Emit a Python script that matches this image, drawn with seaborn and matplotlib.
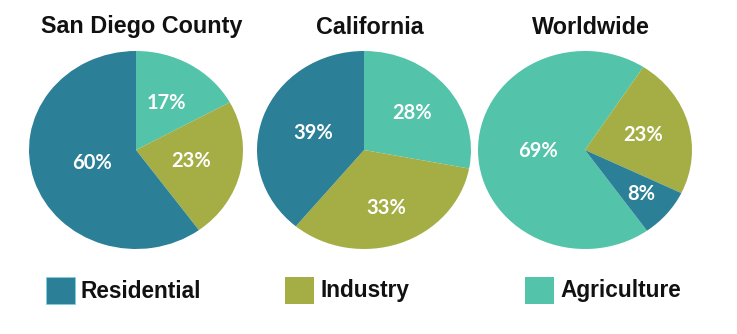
import numpy as np
import matplotlib
matplotlib.use("Agg")
import matplotlib.pyplot as plt
from matplotlib.patches import Rectangle
import seaborn as sns

# Water use share by sector
regions = ["San Diego County", "California", "Worldwide"]
sectors = ["Agriculture", "Industry", "Residential"]
agriculture = [17, 28, 69]
industry = [23, 33, 23]
residential = [60, 39, 8]
legend_order = ["Residential", "Industry", "Agriculture"]

# Styling
sns.set_theme(style="white")
palette = {"Residential": "#2b7f96", "Industry": "#a4ae45", "Agriculture": "#53c3a9"}
start_angles = [90, 90, -54.6]          # degrees, wedges run clockwise
label_radius = [[0.55, 0.53, 0.43],
                [0.58, 0.62, 0.50],
                [0.44, 0.56, 0.69]]
pie_centers_px = [136, 364, 585]
W, H = 737, 334
RX, RY, CY = 107, 99, 150

fig = plt.figure(figsize=(W / 100, H / 100), dpi=100)
fig.patch.set_facecolor("white")

for i, region in enumerate(regions):
    cx = pie_centers_px[i]
    ax = fig.add_axes([(cx - RX) / W, (H - CY - RY) / H, 2 * RX / W, 2 * RY / H])
    vals = [agriculture[i], industry[i], residential[i]]
    wedges, _ = ax.pie(vals, colors=[palette[s] for s in sectors],
                       startangle=start_angles[i], counterclock=False,
                       wedgeprops=dict(linewidth=0))
    ax.set_aspect("auto")
    ax.set_xlim(-1, 1)
    ax.set_ylim(-1, 1)
    ax.axis("off")
    for w, v, r in zip(wedges, vals, label_radius[i]):
        mid = np.deg2rad((w.theta1 + w.theta2) / 2)
        ax.text(r * np.cos(mid), r * np.sin(mid), f"{v}%", color="white",
                ha="center", va="center", fontsize=14.5, fontweight="bold",
                family=["Lato", "DejaVu Sans"])
    fig.text((cx + 6) / W, 1 - 27 / H, region, ha="center", va="center",
             fontsize=16.8, fontweight="bold", family=["Liberation Sans", "DejaVu Sans"],
             color="#111111")

# Legend row
legend_x_px = [46, 285, 525]
for name, lx in zip(legend_order, legend_x_px):
    fig.patches.append(Rectangle((lx / W, (H - 304) / H), 29 / W, 27 / H,
                                 transform=fig.transFigure, facecolor=palette[name],
                                 edgecolor="#7fd0e0" if name == "Residential" else "none",
                                 linewidth=0.6))
    fig.text((lx + 35) / W, 1 - 291 / H, name, ha="left", va="center",
             fontsize=16.3, fontweight="bold", family=["Liberation Sans", "DejaVu Sans"],
             color="#111111")

fig.savefig("out.png", dpi=100, facecolor="white")
